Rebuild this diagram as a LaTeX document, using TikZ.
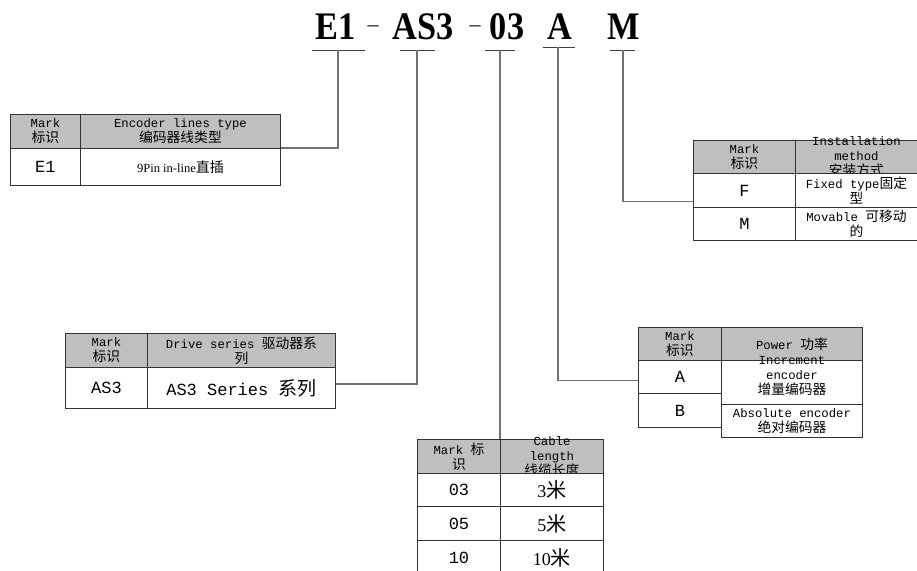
\documentclass[tikz,border=0pt]{standalone}
\usepackage{fontspec}
\setmainfont{Liberation Serif}
\setmonofont{Liberation Mono}
\newfontfamily\zh[Scale=1.12]{Noto Sans CJK SC}
\newfontfamily\ttlfont[FakeStretch=0.88]{Liberation Serif Bold}
\newcommand\hz[1]{{\zh #1}}
\newcommand\hdfont{\ttfamily\fontsize{12.3}{15}\selectfont}
\newcommand\codefont{\ttfamily\fontsize{17}{17}\selectfont}
\newcommand\serfont{\rmfamily\fontsize{12.5}{14}\selectfont}
\newcommand\numfont{\rmfamily\fontsize{18}{18}\selectfont}

\tikzset{
  hd/.style={draw=black!80, fill=gray!50, line width=0.9pt, anchor=north west,
    inner sep=0pt, align=center, font=\hdfont},
  cell/.style={hd, fill=white},
  link/.style={draw=black!55, line width=1.1pt},
  tick/.style={draw=black!75, line width=0.8pt},
  ttl/.style={font=\ttlfont\fontsize{39}{39}\selectfont, anchor=base, inner sep=0pt},
  dsh/.style={font=\fontsize{22}{22}\selectfont, anchor=base, inner sep=0pt},
  every label/.style={align=center, inner sep=0pt, font=\hdfont}
}

\begin{document}
\begin{tikzpicture}[x=1pt,y=-1pt]
  \useasboundingbox[fill=white] (0,0) rectangle (917,570);

  % model code
  \node[ttl] (tE1) at (336,39.5) {E1};
  \node[dsh] (d1) at (373,31) {–};
  \node[ttl] (tAS3) at (423,39.5) {AS3};
  \node[dsh] (d2) at (475,31) {–};
  \node[ttl] (t03) at (507,39.5) {03};
  \node[ttl] (tA) at (560,39.5) {A};
  \node[ttl] (tM) at (624,39.5) {M};
  \foreach \a/\b/\m/\y/\n in {312/365/338/50/1, 400/435/417/50/2, 485/515/500/50/3,
      543/575/558/47/4, 610/635/623/50/5} {
    \draw[tick] (\a,\y) -- (\b,\y);
    \coordinate (u\n) at (\m,\y);
  }

  % encoder lines
  \node[hd, minimum width=70, minimum height=34] (e1k) at (10,114) {Mark\\\hz{标识}};
  \node[hd, minimum width=200, minimum height=34] (e1h) at (80,114) {Encoder lines type\\\hz{编码器线类型}};
  \node[cell, minimum width=70, minimum height=37, font=\codefont] (e1c) at (10,148) {E1};
  \node[cell, minimum width=200, minimum height=37, font=\serfont] (e1d) at (80,148) {9Pin in-line\hz{直插}};

  % drive series
  \node[hd, minimum width=82, minimum height=34] (as3k) at (65,333) {Mark\\\hz{标识}};
  \node[hd, minimum width=188, minimum height=34] (as3h) at (147,333) {Drive series \hz{驱动器系}\\\hz{列}};
  \node[cell, minimum width=82, minimum height=41, font=\codefont] (as3c) at (65,367) {AS3};
  \node[cell, minimum width=188, minimum height=41, font=\codefont] (as3d) at (147,367) {AS3 Series \hz{系列}};

  % power
  \node[hd, minimum width=83, minimum height=33] (pwk) at (638,327) {Mark\\\hz{标识}};
  \node[hd, minimum width=141, minimum height=33] (pwh) at (721,327) {Power \hz{功率}};
  \node[cell, minimum width=83, minimum height=33, font=\codefont] (pwA) at (638,360) {A};
  \node[cell, minimum width=83, minimum height=34, font=\codefont] (pwB) at (638,393) {B};
  \node[cell, minimum width=141, minimum height=44,
    label={[yshift=7pt]center:{Increment\\encoder\\\hz{增量编码器}}}] (pwAd) at (721,360) {};
  \node[cell, minimum width=141, minimum height=33] (pwBd) at (721,404) {Absolute encoder\\\hz{绝对编码器}};

  % cable length
  \node[hd, minimum width=83, minimum height=34] (cbk) at (417,439) {Mark \hz{标}\\\hz{识}};
  \node[hd, minimum width=103, minimum height=34,
    label={center:{Cable\\length\\\hz{线缆长度}}}] (cbh) at (500,439) {};
  \foreach \v/\t [count=\i] in {03/3, 05/5, 10/10} {
    \node[cell, minimum width=83, minimum height=33.7, font=\codefont] (cb\i) at (417,439+33.7*\i) {\v};
    \node[cell, minimum width=103, minimum height=33.7, font=\numfont] (cb\i d) at (500,439+33.7*\i) {\t\hz{米}};
  }

  % installation method
  \node[hd, minimum width=102, minimum height=33] (mtk) at (693,140) {Mark\\\hz{标识}};
  \node[hd, minimum width=122, minimum height=33,
    label={center:{Installation\\method\\\hz{安装方式}}}] (mth) at (795,140) {};
  \node[cell, minimum width=102, minimum height=34, font=\codefont] (mtF) at (693,173) {F};
  \node[cell, minimum width=102, minimum height=33, font=\codefont] (mtM) at (693,207) {M};
  \node[cell, minimum width=122, minimum height=34] (mtFd) at (795,173) {Fixed type\hz{固定}\\\hz{型}};
  \node[cell, minimum width=122, minimum height=33] (mtMd) at (795,207) {Movable \hz{可移动}\\\hz{的}};

  % leaders
  \draw[link] (u1) |- (e1d.north east);
  \draw[link] (u2) |- ([yshift=4pt]as3d.east);
  \draw[link] (u3) -- (cbh.north west);
  \draw[link] (u4) |- ([yshift=-3.5pt]pwA.west);
  \draw[link] (u5) |- ([yshift=-11pt]mtF.west);
\end{tikzpicture}
\end{document}
